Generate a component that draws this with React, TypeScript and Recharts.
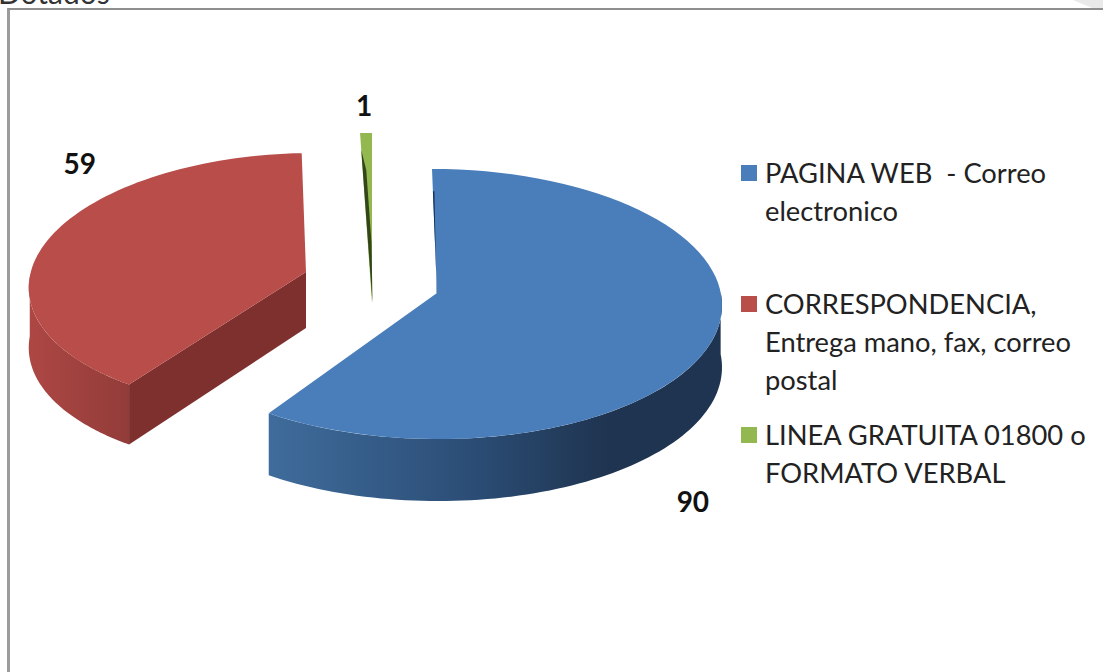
import React from 'react';
import { PieChart, Pie, Legend } from 'recharts';

const categories = [
  'PAGINA WEB  - Correo electronico',
  'CORRESPONDENCIA, Entrega mano, fax, correo postal',
  'LINEA GRATUITA 01800 o FORMATO VERBAL',
];
const values = [90, 59, 1];
const colors = ['#4a7ebb', '#b94d4a', '#93b84f'];
const legendLines = [
  ['PAGINA WEB  - Correo', 'electronico'],
  ['CORRESPONDENCIA,', 'Entrega mano, fax, correo', 'postal'],
  ['LINEA GRATUITA 01800 o', 'FORMATO VERBAL'],
];

const tableData = categories.map((name, i) => ({ name, value: values[i], fill: colors[i] }));

// Drawing of the tilted, exploded slices: offsets and squash factors per slice.
const views = [
  { dx: -1, dy: 0, sx: 1.007, sy: 0.474, k: -3, ax: 2, ay: -11, depth: 62, apexDepth: 60, rim: 'url(#rim0)', wall: null, sliver: { t: 0.82, w: 3, fill: '#16335a' }, lx: -16, ly: 155 },
  { dx: -137, dy: -23, sx: 0.947, sy: 0.449, k: 14, ax: 7, ay: -9, depth: 60, apexDepth: 56, rim: 'url(#rim1)', wall: '#7e302e', sliver: null, lx: 35, ly: -81 },
  { dx: -64, dy: -36, sx: 1, sy: 0.474, k: 0, ax: 0, ay: 35, depth: 0, apexDepth: 0, rim: null, wall: null, sliver: { t: 0.9, w: 5, fill: '#33451a' }, lx: -2, ly: -28 },
];

const rad = (d: number) => (d * Math.PI) / 180;

function project(cx: number, cy: number, r: number, v: any, theta: number) {
  const t = rad(theta);
  return {
    x: cx + v.dx + r * v.sx * Math.sin(t) + v.k * Math.cos(t),
    y: cy + v.dy - r * v.sy * Math.cos(t),
  };
}

function Slice(props: any) {
  const { cx, cy, outerRadius, startAngle, endAngle, fill, index } = props;
  const v = views[index];
  const from = 90 - startAngle;
  const to = 90 - endAngle;
  const apex = { x: cx + v.dx + v.ax, y: cy + v.dy + v.ay };
  const steps = 80;
  const pts: { x: number; y: number }[] = [];
  for (let i = 0; i <= steps; i++) pts.push(project(cx, cy, outerRadius, v, from + ((to - from) * i) / steps));
  const face = `M${apex.x},${apex.y} ` + pts.map((p) => `L${p.x},${p.y}`).join(' ') + ' Z';

  let rimPath = '';
  if (v.rim) {
    const a = Math.max(from, 85);
    const b = Math.min(to, 272);
    const rimPts: { x: number; y: number }[] = [];
    for (let i = 0; i <= steps; i++) rimPts.push(project(cx, cy, outerRadius, v, a + ((b - a) * i) / steps));
    rimPath =
      'M' + rimPts.map((p) => `${p.x},${p.y}`).join(' L') + ' L' +
      rimPts.slice().reverse().map((p) => `${p.x},${p.y + v.depth}`).join(' L') + ' Z';
  }

  let wallPath = '';
  if (v.wall) {
    const tip = pts[0];
    wallPath = `M${tip.x},${tip.y} L${apex.x},${apex.y} L${apex.x},${apex.y + v.apexDepth} L${tip.x},${tip.y + v.depth} Z`;
  }

  let sliverPath = '';
  if (v.sliver) {
    const edge = pts[0];
    const s = v.sliver;
    const top = { x: apex.x + (edge.x - apex.x) * s.t, y: apex.y + (edge.y - apex.y) * s.t };
    sliverPath = `M${top.x},${top.y} L${apex.x},${apex.y} L${apex.x - 0.4},${apex.y} L${top.x + s.w * 0.5},${top.y} Z`;
    if (index === 2) {
      sliverPath = `M${top.x},${top.y} L${apex.x + 0.5},${apex.y} L${apex.x - 0.5},${apex.y - 60} L${top.x + s.w},${top.y + 20} Z`;
    }
  }

  return (
    <g>
      {rimPath && <path d={rimPath} fill={v.rim as string} />}
      {wallPath && <path d={wallPath} fill={v.wall as string} />}
      <path d={face} fill={fill} />
      {sliverPath && <path d={sliverPath} fill={v.sliver!.fill} />}
    </g>
  );
}

function SliceLabel(props: any) {
  const { cx, cy, outerRadius, midAngle, index, value } = props;
  const v = views[index];
  const p = project(cx, cy, outerRadius, v, 90 - midAngle);
  return (
    <text
      x={p.x + v.lx}
      y={p.y + v.ly}
      textAnchor="middle"
      dominantBaseline="central"
      fontFamily="Lato"
      fontWeight={700}
      fontSize={28}
      fill="#111"
    >
      {value}
    </text>
  );
}

function LegendBox(props: any) {
  const payload = props.payload || [];
  return (
    <div style={{ fontFamily: 'Lato', fontSize: 27.3, lineHeight: '38px', color: '#222' }}>
      {payload.map((entry: any, i: number) => (
        <div key={i} style={{ height: 131, position: 'relative', paddingLeft: 24 }}>
          <span
            style={{
              position: 'absolute',
              left: 0,
              top: 11,
              width: 16,
              height: 16,
              background: entry.color,
            }}
          />
          {legendLines[i].map((line, j) => (
            <div key={j} style={{ whiteSpace: 'pre' }}>{line}</div>
          ))}
        </div>
      ))}
    </div>
  );
}

export default function App() {
  return (
    <div style={{ position: 'absolute', left: 0, top: 0, width: 1103, height: 672, overflow: 'hidden', background: '#fff' }}>
      <div style={{ position: 'absolute', left: 0, top: 0, width: 300, height: 9, overflow: 'hidden' }}>
        <div style={{ position: 'absolute', left: -2, top: -23, fontFamily: 'Lato', fontSize: 30, lineHeight: '30px', color: '#333' }}>Dotados</div>
      </div>
      <div style={{ position: 'absolute', left: 1060, top: 0, width: 43, height: 8, background: '#e9e9e9', clipPath: 'polygon(30% 0, 100% 0, 100% 100%, 75% 100%)' }} />
      <div style={{ position: 'absolute', left: 7, top: 8, width: 1096, height: 664, borderLeft: '3px solid #9c9c9c', borderTop: '2px solid #8f8f8f', boxSizing: 'border-box' }} />
      <div style={{ position: 'absolute', left: 0, top: 0 }}>
        <PieChart width={1103} height={672} margin={{ top: 0, right: 0, bottom: 0, left: 0 }}>
          <defs>
            <linearGradient id="rim0" x1="0" y1="0" x2="1" y2="0">
              <stop offset="0" stopColor="#3f6c9c" />
              <stop offset="0.45" stopColor="#2b4d75" />
              <stop offset="0.75" stopColor="#1f3450" />
              <stop offset="1" stopColor="#1f3450" />
            </linearGradient>
            <linearGradient id="rim1" x1="0" y1="0" x2="1" y2="0">
              <stop offset="0" stopColor="#ad4744" />
              <stop offset="1" stopColor="#923c39" />
            </linearGradient>
          </defs>
          <Pie
            data={tableData}
            dataKey="value"
            nameKey="name"
            cx={436}
            cy={304}
            outerRadius={285}
            startAngle={90}
            endAngle={-270}
            paddingAngle={0}
            stroke="none"
            isAnimationActive={false}
            labelLine={false}
            label={SliceLabel}
            shape={Slice}
          />
          <Legend
            layout="vertical"
            align="right"
            verticalAlign="top"
            itemSorter={null}
            content={LegendBox}
            wrapperStyle={{ position: 'absolute', left: 741, top: 154, width: 360 }}
          />
        </PieChart>
      </div>
    </div>
  );
}
